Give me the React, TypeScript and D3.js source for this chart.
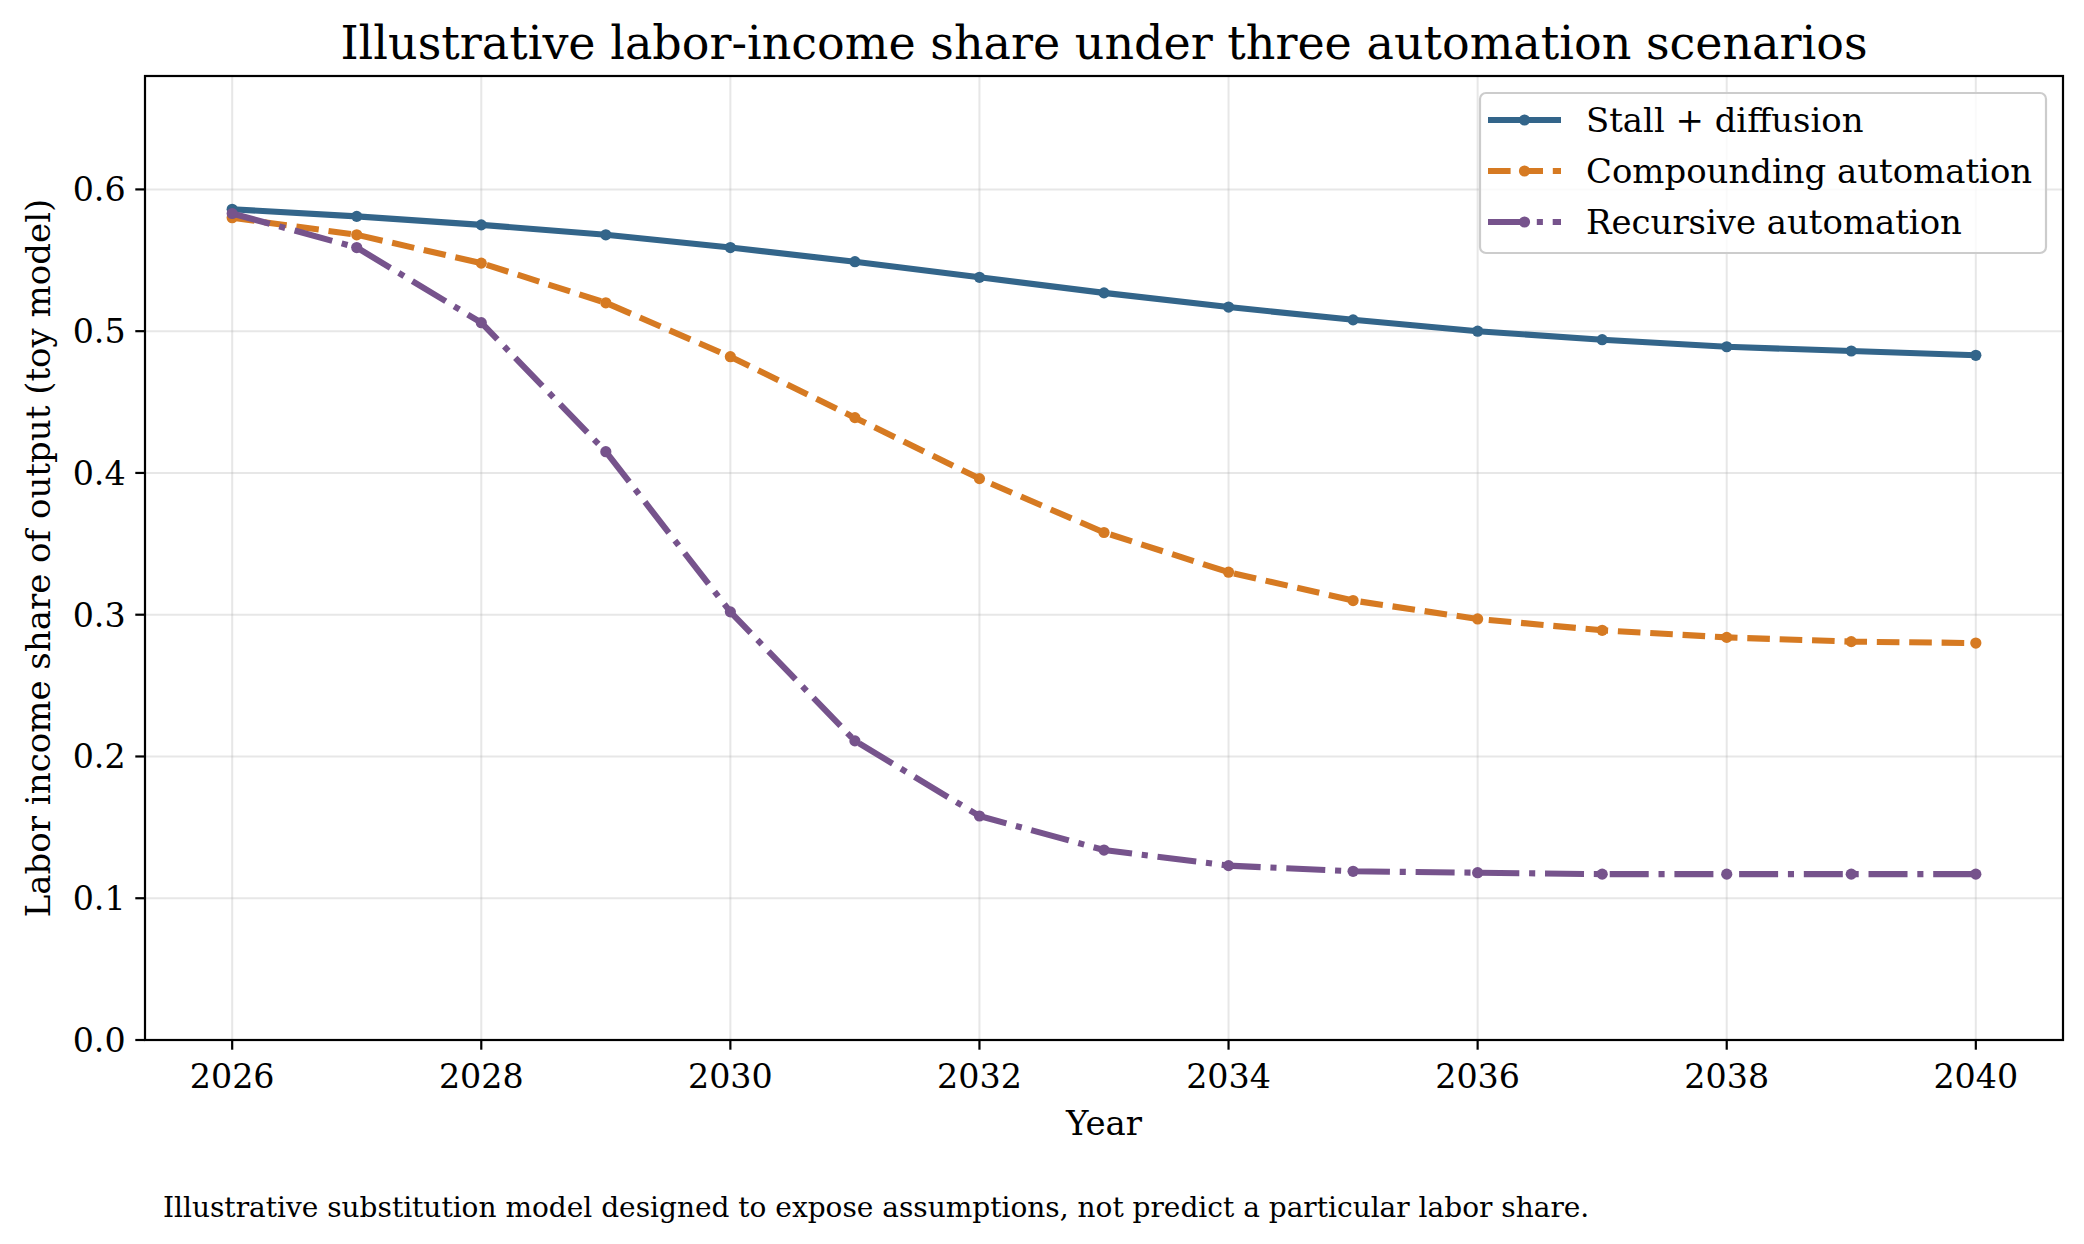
import React, { useEffect, useRef } from "react";
import * as d3 from "d3";

const years = [2026, 2027, 2028, 2029, 2030, 2031, 2032, 2033, 2034, 2035, 2036, 2037, 2038, 2039, 2040];
const stallDiffusion = [0.586, 0.581, 0.575, 0.568, 0.559, 0.549, 0.538, 0.527, 0.517, 0.508, 0.5, 0.494, 0.489, 0.486, 0.483];
const compounding = [0.58, 0.568, 0.548, 0.52, 0.482, 0.439, 0.396, 0.358, 0.33, 0.31, 0.297, 0.289, 0.284, 0.281, 0.28];
const recursive = [0.583, 0.559, 0.506, 0.415, 0.302, 0.211, 0.158, 0.134, 0.123, 0.119, 0.118, 0.117, 0.117, 0.117, 0.117];
const seriesNames = ["Stall + diffusion", "Compounding automation", "Recursive automation"];
const xTicks = [2026, 2028, 2030, 2032, 2034, 2036, 2038, 2040];
const yTicks = [0, 0.1, 0.2, 0.3, 0.4, 0.5, 0.6];

const titleText = "Illustrative labor-income share under three automation scenarios";
const xLabel = "Year";
const yLabel = "Labor income share of output (toy model)";
const footnote =
  "Illustrative substitution model designed to expose assumptions, not predict a particular labor share.";

const W = 2084;
const H = 1244;
const font = "'DejaVu Serif', serif";

export default function App() {
  const svgRef = useRef<SVGSVGElement>(null);

  useEffect(() => {
    const m = { left: 145, right: 2063, top: 76, bottom: 1040 };
    const svg = d3.select(svgRef.current);
    svg.selectAll("*").remove();
    svg.attr("width", W).attr("height", H).style("background", "#fff");

    const x = d3.scaleLinear().domain([2025.3, 2040.7]).range([m.left, m.right]);
    const y = d3.scaleLinear().domain([0, 0.68]).range([m.bottom, m.top]);

    const series = [
      { name: seriesNames[0], values: stallDiffusion, color: "#33658a", dash: "" },
      { name: seriesNames[1], values: compounding, color: "#d67a22", dash: "22.6,9.8" },
      { name: seriesNames[2], values: recursive, color: "#76538c", dash: "39,9.8,6.1,9.8" },
    ];

    // grid
    const grid = svg.append("g");
    grid
      .selectAll("line.gx")
      .data(xTicks)
      .join("line")
      .attr("x1", (d) => x(d))
      .attr("x2", (d) => x(d))
      .attr("y1", m.top)
      .attr("y2", m.bottom)
      .attr("stroke", "#b0b0b0")
      .attr("stroke-opacity", 0.3)
      .attr("stroke-width", 2);
    grid
      .selectAll("line.gy")
      .data(yTicks)
      .join("line")
      .attr("x1", m.left)
      .attr("x2", m.right)
      .attr("y1", (d) => y(d))
      .attr("y2", (d) => y(d))
      .attr("stroke", "#b0b0b0")
      .attr("stroke-opacity", 0.3)
      .attr("stroke-width", 2);

    // lines + markers
    const line = d3
      .line<number>()
      .x((_, i) => x(years[i]))
      .y((d) => y(d));

    series.forEach((s) => {
      svg
        .append("path")
        .datum(s.values)
        .attr("d", line)
        .attr("fill", "none")
        .attr("stroke", s.color)
        .attr("stroke-width", 6.1)
        .attr("stroke-linejoin", "round")
        .attr("stroke-dasharray", s.dash || null);
      svg
        .append("g")
        .selectAll("circle")
        .data(s.values)
        .join("circle")
        .attr("cx", (_, i) => x(years[i]))
        .attr("cy", (d) => y(d))
        .attr("r", 5.6)
        .attr("fill", s.color);
    });

    // frame
    svg
      .append("rect")
      .attr("x", m.left)
      .attr("y", m.top)
      .attr("width", m.right - m.left)
      .attr("height", m.bottom - m.top)
      .attr("fill", "none")
      .attr("stroke", "#000")
      .attr("stroke-width", 2.2);

    // x ticks
    const xt = svg.append("g").selectAll("g").data(xTicks).join("g");
    xt.append("line")
      .attr("x1", (d) => x(d))
      .attr("x2", (d) => x(d))
      .attr("y1", m.bottom)
      .attr("y2", m.bottom + 9.7)
      .attr("stroke", "#000")
      .attr("stroke-width", 2.2);
    xt.append("text")
      .attr("x", (d) => x(d))
      .attr("y", 1088)
      .attr("text-anchor", "middle")
      .style("font-family", font)
      .style("font-size", "33.3px")
      .text((d) => String(d));

    // y ticks
    const yt = svg.append("g").selectAll("g").data(yTicks).join("g");
    yt.append("line")
      .attr("x1", m.left - 9.7)
      .attr("x2", m.left)
      .attr("y1", (d) => y(d))
      .attr("y2", (d) => y(d))
      .attr("stroke", "#000")
      .attr("stroke-width", 2.2);
    yt.append("text")
      .attr("x", m.left - 19.4)
      .attr("y", (d) => y(d))
      .attr("dy", "0.36em")
      .attr("text-anchor", "end")
      .style("font-family", font)
      .style("font-size", "33.3px")
      .text((d) => d.toFixed(1));

    // titles
    svg
      .append("text")
      .attr("x", (m.left + m.right) / 2)
      .attr("y", 59)
      .attr("text-anchor", "middle")
      .style("font-family", font)
      .style("font-size", "46px")
      .text(titleText);
    svg
      .append("text")
      .attr("x", (m.left + m.right) / 2)
      .attr("y", 1135)
      .attr("text-anchor", "middle")
      .style("font-family", font)
      .style("font-size", "34px")
      .text(xLabel);
    svg
      .append("text")
      .attr("transform", `translate(50,${(m.top + m.bottom) / 2}) rotate(-90)`)
      .attr("text-anchor", "middle")
      .style("font-family", font)
      .style("font-size", "34px")
      .text(yLabel);
    svg
      .append("text")
      .attr("x", 163)
      .attr("y", 1217)
      .style("font-family", font)
      .style("font-size", "28px")
      .text(footnote);

    // legend
    const lg = svg.append("g");
    lg.append("rect")
      .attr("x", 1480)
      .attr("y", 93)
      .attr("width", 566)
      .attr("height", 160)
      .attr("rx", 6)
      .attr("fill", "#fff")
      .attr("fill-opacity", 0.8)
      .attr("stroke", "#cccccc")
      .attr("stroke-width", 2.2);
    const rows = lg
      .selectAll("g")
      .data(series)
      .join("g")
      .attr("transform", (_, i) => `translate(0,${120 + i * 51})`);
    rows
      .append("line")
      .attr("x1", 1488)
      .attr("x2", 1561)
      .attr("y1", 0)
      .attr("y2", 0)
      .attr("stroke", (d) => d.color)
      .attr("stroke-width", 6.1)
      .attr("stroke-dasharray", (d) => d.dash || null);
    rows
      .append("circle")
      .attr("cx", 1524.5)
      .attr("cy", 0)
      .attr("r", 5.6)
      .attr("fill", (d) => d.color);
    rows
      .append("text")
      .attr("x", 1586)
      .attr("y", 0)
      .attr("dy", "0.36em")
      .style("font-family", font)
      .style("font-size", "33.9px")
      .text((d) => d.name);
  }, []);

  return (
    <div style={{ position: "fixed", left: 0, top: 0 }}>
      <svg ref={svgRef}></svg>
    </div>
  );
}
